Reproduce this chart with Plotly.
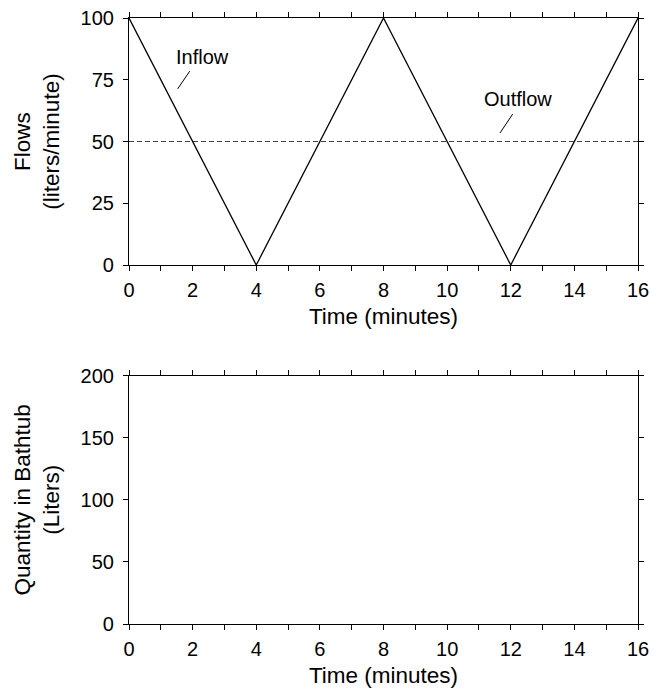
import plotly.graph_objects as go
from plotly.subplots import make_subplots

time_pts = [0, 4, 8, 12, 16]
inflow = [100, 0, 100, 0, 100]
outflow_time = [0, 16]
outflow = [50, 50]
quantity_time = []
quantity = []

top_yticks = [0, 25, 50, 75, 100]
bottom_yticks = [0, 50, 100, 150, 200]
x_ticks = [0, 2, 4, 6, 8, 10, 12, 14, 16]

FONT = "Liberation Sans, Arial, Helvetica, sans-serif"
TITLE_SIZE = 22.5

fig = make_subplots(rows=2, cols=1, vertical_spacing=0.1)

fig.add_trace(go.Scatter(x=time_pts, y=inflow, mode="lines",
                         line=dict(color="black", width=1.3), showlegend=False), row=1, col=1)
fig.add_trace(go.Scatter(x=outflow_time, y=outflow, mode="lines",
                         line=dict(color="#444", width=1, dash="5px,3px"), showlegend=False), row=1, col=1)
fig.add_trace(go.Scatter(x=quantity_time, y=quantity, mode="lines",
                         line=dict(color="black", width=1.3), showlegend=False), row=2, col=1)

axis_common = dict(showgrid=False, zeroline=False, showline=True, linecolor="black", linewidth=1.2,
                   mirror="ticks", ticks="outside", ticklen=5, tickwidth=1, tickcolor="black",
                   automargin=False,
                   tickfont=dict(size=20, color="black", family=FONT))

for r in (1, 2):
    fig.update_xaxes(range=[0, 16], tickvals=x_ticks, ticklabelstandoff=2,
                     minor=dict(dtick=1, ticks="outside", ticklen=5, tickwidth=1, tickcolor="black"),
                     title=dict(text="Time (minutes)", font=dict(size=TITLE_SIZE, color="black", family=FONT), standoff=8),
                     row=r, col=1, **axis_common)

fig.update_yaxes(range=[0, 100], tickvals=top_yticks, ticklabelstandoff=5,
                 title=dict(text="Flows<br>(liters/minute)", font=dict(size=TITLE_SIZE, color="black", family=FONT), standoff=14),
                 row=1, col=1, **axis_common)
fig.update_yaxes(range=[0, 200], tickvals=bottom_yticks, ticklabelstandoff=5,
                 title=dict(text="Quantity in Bathtub<br>(Liters)", font=dict(size=TITLE_SIZE, color="black", family=FONT), standoff=14),
                 row=2, col=1, **axis_common)

fig.update_layout(
    width=653, height=690,
    margin=dict(l=129, r=15, t=18, b=66),
    paper_bgcolor="white", plot_bgcolor="white",
    font=dict(family=FONT, color="black"),
)
fig.layout.yaxis.domain = [0.5924, 1.0]
fig.layout.yaxis2.domain = [0.0, 0.4097]

fig.add_annotation(x=2.32, y=84.2, xref="x", yref="y", text="Inflow", showarrow=False,
                   font=dict(size=20, color="black", family=FONT))
fig.add_shape(type="line", x0=1.53, y0=71.3, x1=1.91, y1=78.5, xref="x", yref="y",
              line=dict(color="black", width=1))
fig.add_annotation(x=12.22, y=67.2, xref="x", yref="y", text="Outflow", showarrow=False,
                   font=dict(size=20, color="black", family=FONT))
fig.add_shape(type="line", x0=11.66, y0=53.4, x1=12.06, y1=61.1, xref="x", yref="y",
              line=dict(color="black", width=1))

fig.write_html("out.html", config={"displayModeBar": False},
               post_script="document.body.style.margin='0';document.body.style.overflow='hidden';")
